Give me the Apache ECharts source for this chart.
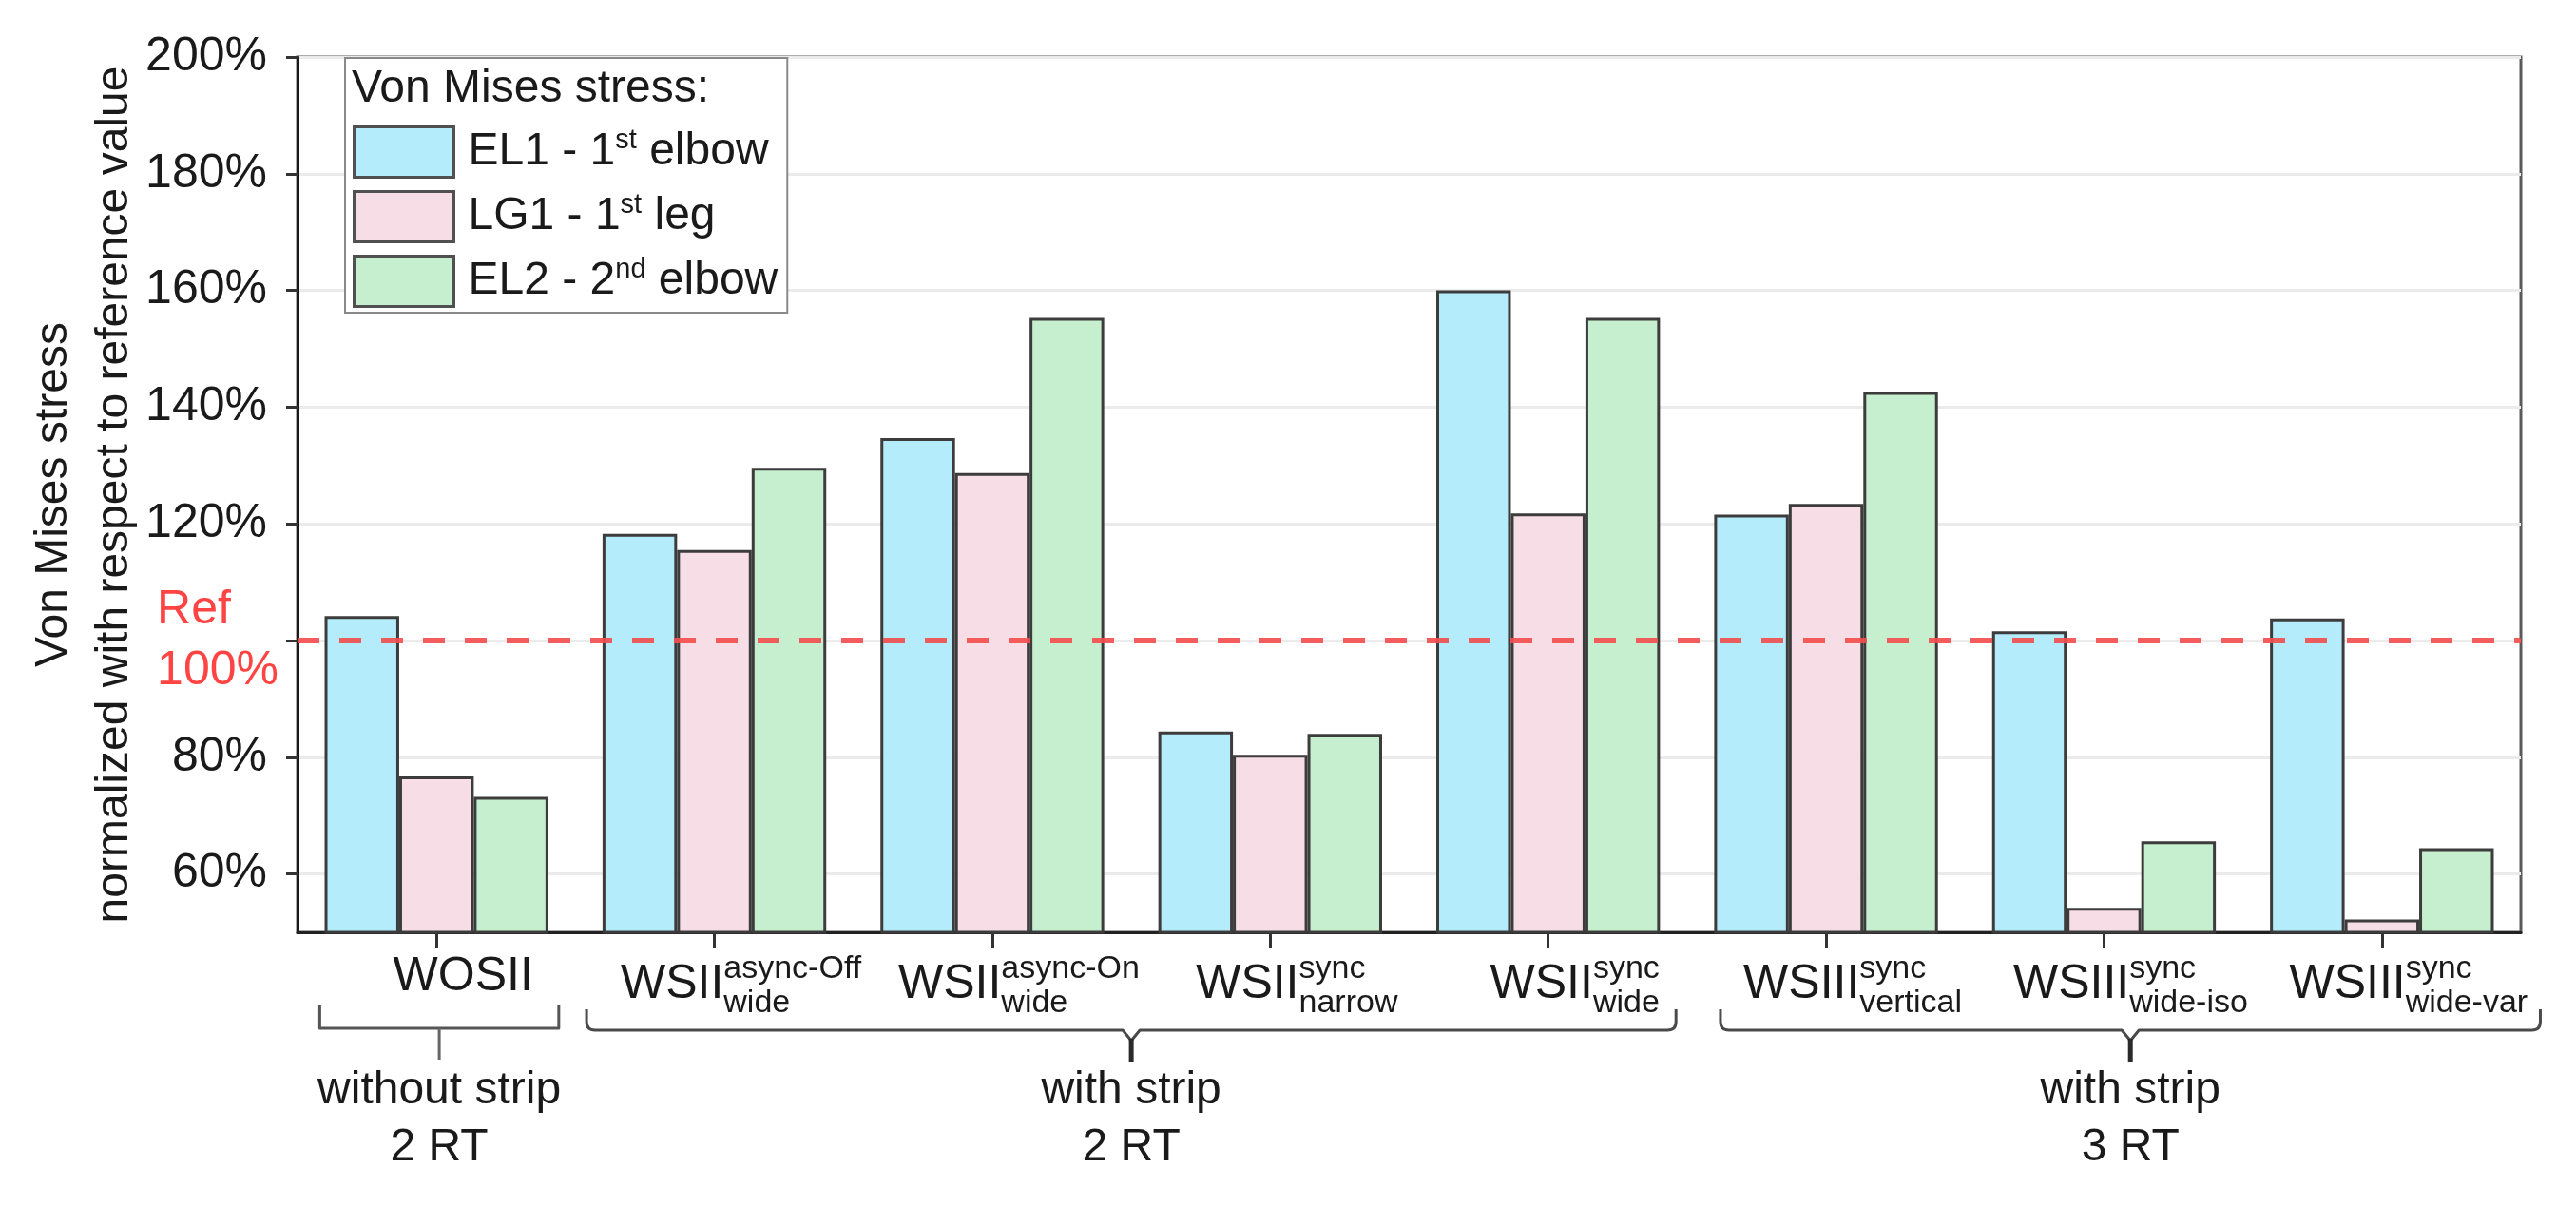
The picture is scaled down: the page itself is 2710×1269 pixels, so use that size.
<!DOCTYPE html>
<html>
<head>
<meta charset="utf-8">
<script src="https://cdn.jsdelivr.net/npm/echarts@6/dist/echarts.min.js"></script>
<style>
html,body{margin:0;padding:0;background:#fff;}
#chart{width:2710px;height:1269px;}
</style>
</head>
<body>
<div id="chart"></div>
<script>
// ---- data ----
const catMain = ['WOSII', 'WSII', 'WSII', 'WSII', 'WSII', 'WSIII', 'WSIII', 'WSIII'];
const catSup  = ['', 'async-Off', 'async-On', 'sync', 'sync', 'sync', 'sync', 'sync'];
const catSub  = ['', 'wide', 'wide', 'narrow', 'wide', 'vertical', 'wide-iso', 'wide-var'];
const seriesNames = ['EL1 - 1st elbow', 'LG1 - 1st leg', 'EL2 - 2nd elbow'];
const el1 = [104.2, 118.3, 134.7, 84.4, 160.0, 121.6, 101.6, 103.8];
const lg1 = [76.7, 115.5, 128.7, 80.4, 121.8, 123.4, 54.2, 52.2];
const el2 = [73.2, 129.6, 155.3, 84.0, 155.3, 142.6, 65.6, 64.4];
const yTicks = [60, 80, 100, 120, 140, 160, 180, 200];
const refValue = 100;
const groupLabels = ['without strip\n2 RT', 'with strip\n2 RT', 'with strip\n3 RT'];
const groupSpan = [[-0.42, 0.44], [0.54, 4.46], [4.62, 7.57]];
const groupShape = ['square', 'curly', 'curly'];

const categories = catMain.map((m, i) => m + (catSup[i] ? ' ' + catSup[i] + ' ' + catSub[i] : ''));
const colors = ['#b4ecfc', '#f7dde6', '#c6efcf'];
const FONT = '"Liberation Sans", Arial, sans-serif';
const TXT = '#1a1a1a';

const chart = echarts.init(document.getElementById('chart'), null, {renderer: 'canvas'});

function barSeries(name, data, color, extra) {
  return Object.assign({
    name: name,
    type: 'bar',
    data: data,
    barGap: '0%',
    barCategoryGap: '19.5%',
    itemStyle: {color: color, borderColor: '#3c3c3c', borderWidth: 3},
    emphasis: {disabled: true}
  }, extra || {});
}

const option = {
  animation: false,
  backgroundColor: '#fff',
  textStyle: {fontFamily: FONT, color: TXT},
  title: {
    text: 'Von Mises stress:',
    left: 370, top: 70, padding: 0,
    textStyle: {fontSize: 48, fontWeight: 'normal', color: TXT, fontFamily: FONT}
  },
  legend: {
    orient: 'vertical',
    left: 363, top: 61,
    padding: [71, 10, 5, 8],
    itemWidth: 105, itemHeight: 53, itemGap: 12,
    borderColor: '#8a8a8a', borderWidth: 2,
    backgroundColor: '#fff',
    icon: 'rect',
    data: seriesNames,
    itemStyle: {borderColor: '#505050', borderWidth: 3},
    formatter: function (name) {
      return name.replace(/(\d)(st|nd|rd|th)\b/, '$1{sup|$2}');
    },
    textStyle: {
      fontSize: 48, color: TXT, fontFamily: FONT, lineHeight: 53,
      padding: [0, 0, 0, 10],
      rich: {
        sup: {fontSize: 29, lineHeight: 26, verticalAlign: 'top', color: TXT, fontFamily: FONT}
      }
    }
  },
  grid: {left: 313, right: 58, top: 60, bottom: 288, show: true, borderColor: '#5a5a5a', borderWidth: 3, containLabel: false, outerBoundsMode: 'none'},
  xAxis: {
    type: 'category',
    data: categories,
    axisLine: {show: true, lineStyle: {color: '#222', width: 3}},
    axisTick: {show: true, alignWithLabel: true, length: 16, lineStyle: {color: '#333', width: 3}},
    axisLabel: {
      interval: 0,
      margin: 22,
      padding: [0, 0, 0, 56],
      color: TXT,
      formatter: function (v, i) {
        if (!catSup[i]) return '{m0|' + catMain[i] + '}';
        return '{mh|' + catMain[i] + '}{sup|' + catSup[i] + '}\n{m|' + catMain[i] + '}{sub|' + catSub[i] + '}';
      },
      rich: {
        m0: {fontSize: 50, lineHeight: 22, verticalAlign: 'top', align: 'left', color: TXT, fontFamily: FONT},
        mh: {fontSize: 50, lineHeight: 8.6, align: 'left', color: 'rgba(0,0,0,0)', fontFamily: FONT},
        sup: {fontSize: 34, lineHeight: 1, verticalAlign: 'top', align: 'left', color: TXT, fontFamily: FONT},
        m: {fontSize: 50, lineHeight: 1, verticalAlign: 'top', align: 'left', color: TXT, fontFamily: FONT},
        sub: {fontSize: 34, lineHeight: 61.4, verticalAlign: 'bottom', align: 'left', color: TXT, fontFamily: FONT}
      }
    },
    splitLine: {show: false}
  },
  yAxis: {
    type: 'value',
    min: 50, max: 200, interval: 10,
    name: 'Von Mises stress\nnormalized with respect to reference value',
    nameLocation: 'middle',
    nameGap: 160,
    nameMoveOverlap: false,
    nameTextStyle: {fontSize: 48, lineHeight: 64, color: TXT, fontFamily: FONT},
    axisLine: {show: true, lineStyle: {color: '#1a1a1a', width: 3}},
    axisTick: {show: true, length: 12, customValues: yTicks, lineStyle: {color: '#333', width: 3}},
    axisLabel: {
      customValues: yTicks,
      margin: 20,
      formatter: function (v) {
        if (v === refValue) return '{r1|Ref}\n{r2|' + v + '%}';
        return '{n|' + v + '%}';
      },
      rich: {
        n: {fontSize: 50, color: TXT, padding: [0, 12, 0, 0], fontFamily: FONT},
        r1: {fontSize: 50, lineHeight: 64, color: '#ff4444', align: 'left', fontFamily: FONT},
        r2: {fontSize: 50, lineHeight: 64, color: '#ff4444', fontFamily: FONT}
      }
    },
    splitLine: {show: true, lineStyle: {color: '#ebebeb', width: 3}}
  },
  series: [
    barSeries(seriesNames[0], el1, colors[0], {
      markLine: {
        silent: true,
        symbol: 'none',
        label: {show: false},
        lineStyle: {color: '#f24f4f', type: [23, 21], width: 6, opacity: 0.92},
        emphasis: {disabled: true},
        data: [{yAxis: refValue}]
      }
    }),
    barSeries(seriesNames[1], lg1, colors[1]),
    barSeries(seriesNames[2], el2, colors[2]),
    {
      type: 'custom',
      silent: true,
      clip: false,
      data: groupLabels.map((_, i) => [i, 50]),
      renderItem: function (params, api) {
        const g = params.dataIndex;
        const origin = api.coord([0, 50]);
        const bw = api.size([1, 0])[0];
        const x0 = origin[0] + groupSpan[g][0] * bw;
        const x1 = origin[0] + groupSpan[g][1] * bw;
        const xc = (x0 + x1) / 2;
        const yb = origin[1];
        const children = [];
        const stroke = {stroke: '#4a4a4a', lineWidth: 3, fill: null, lineJoin: 'round', lineCap: 'butt'};
        let textTop;
        if (groupShape[g] === 'square') {
          const yT = yb + 76, yL = yb + 101, yS = yb + 134;
          children.push({type: 'polyline', shape: {points: [[x0, yT], [x0, yL], [x1, yL], [x1, yT]]}, style: Object.assign({}, stroke, {stroke: '#555'})});
          children.push({type: 'line', shape: {x1: xc, y1: yL, x2: xc, y2: yS}, style: {stroke: '#666', lineWidth: 3}});
          textTop = yb + 137;
        } else {
          const yT = yb + 81, yL = yb + 103, r = 9, yV = yL + 11, yS = yL + 34;
          const d = 'M' + x0 + ' ' + yT + ' L' + x0 + ' ' + (yL - r) + ' Q' + x0 + ' ' + yL + ' ' + (x0 + r) + ' ' + yL +
                    ' L' + (xc - 9) + ' ' + yL + ' L' + xc + ' ' + yV + ' L' + (xc + 9) + ' ' + yL +
                    ' L' + (x1 - r) + ' ' + yL + ' Q' + x1 + ' ' + yL + ' ' + x1 + ' ' + (yL - r) + ' L' + x1 + ' ' + yT;
          children.push({type: 'path', shape: {pathData: d}, style: stroke});
          children.push({type: 'line', shape: {x1: xc, y1: yV - 2, x2: xc, y2: yS}, style: {stroke: '#2a2a2a', lineWidth: 5}});
          textTop = yb + 137;
        }
        children.push({
          type: 'text',
          x: xc, y: textTop,
          style: {text: groupLabels[g], fontSize: 48, lineHeight: 60, fontFamily: FONT, fill: TXT, align: 'center', verticalAlign: 'top'}
        });
        return {type: 'group', children: children};
      }
    }
  ]
};
chart.setOption(option);
</script>
</body>
</html>
